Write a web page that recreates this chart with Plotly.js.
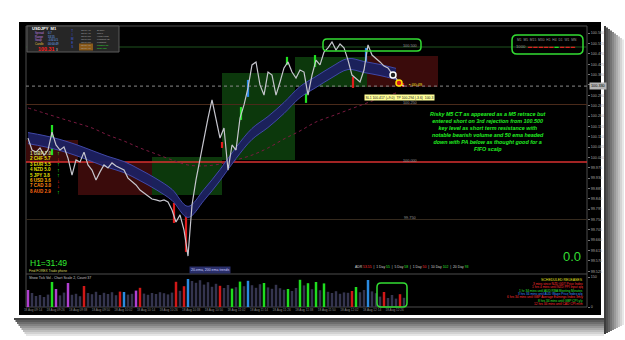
<!DOCTYPE html>
<html><head><meta charset="utf-8">
<script src="https://cdn.plot.ly/plotly-3.0.1.min.js"></script>
<style>html,body{margin:0;padding:0;background:#fff;}#chart{width:625px;height:340px;}</style>
</head><body><div id="chart"></div>
<script>
// ---------- DATA ----------
const closes = [100.104,100.052,100.043,100.061,100.030,100.052,100.130,100.074,100.052,100.065,
100.017,99.943,100.009,100.000,100.043,99.987,99.965,99.922,99.957,99.987,
99.974,99.996,99.983,99.974,99.965,99.930,99.913,99.900,99.878,99.865,
99.848,99.839,99.835,99.830,99.835,99.826,99.791,99.739,99.770,99.704,
99.591,99.813,99.922,100.017,100.104,100.191,100.270,100.183,100.104,100.148,
99.965,100.074,100.052,100.191,100.248,100.322,100.422,100.435,100.335,100.291,
100.391,100.378,100.291,100.348,100.409,100.435,100.391,100.365,100.400,100.391,
100.291,100.378,100.443,100.422,100.478,100.496,100.522,100.487,100.513,100.496,
100.443,100.378,100.365,100.348,100.400,100.509,100.465,100.452,100.435,100.417,
100.409,100.383,100.365,100.339,100.330];

const volumes = [85,70,55,60,50,62,125,90,58,72,
120,61,66,54,105,70,64,76,60,71,
65,74,59,77,75,62,66,82,96,67,
61,70,65,74,69,63,72,126,81,104,
140,130,121,134,112,124,101,116,106,95,
110,92,99,127,104,131,109,96,114,120,
98,91,111,94,86,90,80,95,136,108,
119,89,125,84,118,76,70,79,66,73,
71,80,100,74,85,135,78,69,52,75,
45,60,42,64,46];
const volGreen  = [6,51,53,59,65,68,70,72,74,82];
const volRed    = [14,23,28,37,39,48,81,89,93];
const volBlue   = [24,40,55,85];
const volPurple = [0,7,10,27];

// 50 EMA band (high / low) and 200 EMA, sampled every 4 bars
const emaHigh = [100.128,100.115,100.098,100.076,100.050,100.024,100.002,99.967,99.928,99.881,99.807,99.881,99.967,100.063,100.146,100.198,100.259,100.328,100.372,100.415,100.450,100.437,100.424,100.407];
const emaLow  = [100.080,100.067,100.050,100.028,100.002,99.976,99.954,99.919,99.880,99.833,99.759,99.833,99.919,100.015,100.098,100.150,100.211,100.280,100.324,100.367,100.402,100.389,100.376,100.359];
const ema200  = [100.235,100.213,100.191,100.170,100.148,100.117,100.091,100.061,100.035,100.009,99.987,99.983,99.991,100.009,100.030,100.061,100.100,100.135,100.174,100.200,100.226,100.252,100.278,100.300];

// coloured signal bars
const sigIdx  = [6,36.5,39.5,48.5,53.25,55,64.75,69.5,71.75,81.25,84.5,93.75];
const sigHigh = [100.161,99.822,99.783,100.087,100.239,100.357,100.457,100.343,100.465,100.370,100.496,100.343];
const sigLow  = [100.030,99.735,99.609,100.061,100.183,100.283,100.422,100.257,100.413,100.322,100.430,100.326];
const sigType = ['up','down','down','down','up','blue','up','up','up','down','blue','down'];

// session boxes
const boxStart  = [-0.5,12.5,31,48.5,66.75,84.75];
const boxEnd    = [12.5,31,48.5,66.75,84.75,102.5];
const boxTop    = [100.096,100.000,100.022,100.387,100.457,100.461];
const boxBottom = [100.000,99.857,99.857,100.009,100.326,100.326];
const boxKind   = ['bear','bear','bull','bull','bull','bear'];

// key levels
const levels = [100.500,100.250,100.000,99.750];
const levelLabels = ['100.500','100.250','100.000','99.750'];

// trade marks
const tradeIdx = [91.25,92.75];
const tradePrice = [100.378,100.343];

const priceTicks = [100.560,100.515,100.470,100.425,100.380,100.335,100.290,100.245,100.200,100.155,100.110,100.065,100.020,99.975,99.930,99.885,99.840,99.795,99.750,99.705,99.660,99.615,99.570,99.525];
const timeLabels = ['18 Aug 09:14','18 Aug 09:26','18 Aug 09:38','18 Aug 09:50','18 Aug 10:02','18 Aug 10:14','18 Aug 10:26','18 Aug 10:38','18 Aug 10:50','18 Aug 11:02','18 Aug 11:14','18 Aug 11:26','18 Aug 11:38','18 Aug 11:50','18 Aug 12:02','18 Aug 12:14','18 Aug 12:26'];

const strengthCcy = ['GBP','CHF','EUR','NZD','JPY','USD','CAD','AUD'];
const strengthVal = [7.0,5.7,5.5,5.0,3.8,3.6,3.0,2.9];
const strengthDir = [1,-1,1,1,1,-1,-1,1];

const releases = ['3 mins since NZD GDT Price Index','1 hrs 4 mins until NZD PPI Input q/q','1 hr 34 mins until AUD RBA Meeting Minutes','3 hrs 34 mins until AUD Wage Price Index q/q','6 hrs 34 mins until GBP Average Earnings Index 3m/y','8 hrs 34 mins until GBP CPI y/y','12 hrs 34 mins until CAD CPI m/m'];
const releaseKind = ['past','high','med','low','high','med','high'];

// ---------- helpers (page pixels -> paper) ----------
const L=26,R=587,TOP=26,BOT=307;
const PX = x => (x-L)/(R-L);
const PY = y => (BOT-y)/(BOT-TOP);
const FONT = 'Liberation Sans, Arial, sans-serif';
function T(x,y,text,size,color,o){return Object.assign({xref:'paper',yref:'paper',x:PX(x),y:PY(y),text:text,showarrow:false,xanchor:'left',yanchor:'middle',borderpad:0,font:{size:size,color:color,family:FONT}},o||{});}
function rr(x0,y0,x1,y1,r){ // pixel box -> rounded path in paper coords
  const a=PX(x0),b=PX(x1),top=PY(y0),bot=PY(y1),rx=r/(R-L),ry=r/(BOT-TOP);
  return `M${a+rx},${bot} L${b-rx},${bot} Q${b},${bot} ${b},${bot+ry} L${b},${top-ry} Q${b},${top} ${b-rx},${top} L${a+rx},${top} Q${a},${top} ${a},${top-ry} L${a},${bot+ry} Q${a},${bot} ${a+rx},${bot} Z`;
}

// ---------- traces ----------
const idx = closes.map((_,i)=>i);
const emaX = emaHigh.map((_,k)=>k*4);
const sigColor = {up:'#22e022',down:'#e01c1c',blue:'#2a8ae8'};
const volColor = volumes.map((v,i)=> volGreen.includes(i)?'#1fdc1f': volRed.includes(i)?'#d01818': volBlue.includes(i)?'#2a8ae0': volPurple.includes(i)?'#b040d0':'#34344e');

const traces = [
 {x:emaX,y:ema200,type:'scatter',mode:'lines',line:{color:'#7a1a40',width:1,dash:'dot',shape:'spline'},hoverinfo:'skip'},
 {x:emaX,y:emaLow,type:'scatter',mode:'lines',line:{color:'#4048a8',width:1,shape:'spline'},hoverinfo:'skip'},
 {x:emaX,y:emaHigh,type:'scatter',mode:'lines',fill:'tonexty',fillcolor:'rgba(28,32,96,0.95)',line:{color:'#4048a8',width:1,shape:'spline'},hoverinfo:'skip'},
 {x:idx,y:closes,type:'scatter',mode:'lines',line:{color:'#c6c6ce',width:1.2},hoverinfo:'skip'},
 {x:sigIdx,y:sigHigh.map((h,i)=>h-sigLow[i]),base:sigLow,type:'bar',width:0.55,marker:{color:sigType.map(t=>sigColor[t])},hoverinfo:'skip'},
 {x:tradeIdx,y:tradePrice,type:'scatter',mode:'markers',marker:{size:6,color:['#222222','#d81e1e'],line:{color:['#ffffff','#ffdd00'],width:1.5}},hoverinfo:'skip'},
 {x:idx,y:volumes,type:'bar',xaxis:'x',yaxis:'y2',width:0.62,marker:{color:volColor},hoverinfo:'skip'}
];

// ---------- shapes ----------
const shapes = [];
// card shadow
for(let k=0;k<10;k++){const g=Math.round(60+k*19);shapes.push({type:'rect',xref:'paper',yref:'paper',layer:'below',x0:PX(604+2*k),x1:PX(606+2*k),y0:PY(334-k),y1:PY(26+k*1.5),fillcolor:`rgb(${g},${g},${g})`,line:{width:0}});}
for(let k=0;k<9;k++){const g=Math.round(70+k*20);shapes.push({type:'rect',xref:'paper',yref:'paper',layer:'below',x0:PX(14+k*1.5),x1:PX(604),y0:PY(320+2*k),y1:PY(318+2*k),fillcolor:`rgb(${g},${g},${g})`,line:{width:0}});}
// black chart frame
shapes.push({type:'rect',xref:'paper',yref:'paper',layer:'below',x0:PX(19),x1:PX(601),y0:PY(315),y1:PY(22),fillcolor:'#000',line:{width:0}});
// session boxes
boxStart.forEach((s,i)=>shapes.push({type:'rect',xref:'x',yref:'y',layer:'below',x0:s,x1:boxEnd[i],y0:boxBottom[i],y1:boxTop[i],fillcolor:boxKind[i]==='bull'?'#0c380c':'#3a0b0b',line:{width:0}}));
// key levels
const levelColor=['#1f521f','#4a2a1a','#d83030','#352a1e'];
levels.forEach((v,i)=>shapes.push({type:'line',xref:'x',yref:'y',layer:'below',x0:-0.5,x1:139.75,y0:v,y1:v,line:{color:levelColor[i],width:i===2?1.5:1}}));
// bid line
const last = closes[closes.length-1];
shapes.push({type:'line',xref:'x',yref:'y',layer:'below',x0:-0.5,x1:139.75,y0:last,y1:last,line:{color:'#8a8a8a',width:1,dash:'dot'}});
// panel borders
shapes.push({type:'rect',xref:'paper',yref:'paper',layer:'below',x0:0,x1:1,y0:0,y1:1,line:{color:'#4c4c4c',width:1}});
shapes.push({type:'line',xref:'paper',yref:'paper',layer:'below',x0:0,x1:1,y0:PY(274),y1:PY(274),line:{color:'#4c4c4c',width:1}});
// info panel
shapes.push({type:'rect',xref:'paper',yref:'paper',layer:'above',x0:PX(27),x1:PX(119),y0:PY(52),y1:PY(26),fillcolor:'#262626',line:{color:'#5a5a5a',width:1}});
shapes.push({type:'rect',xref:'paper',yref:'paper',layer:'above',x0:PX(79),x1:PX(93),y0:PY(50.5),y1:PY(43.5),fillcolor:'#8a5a1a',line:{width:0}});
// green call-outs
shapes.push({type:'path',xref:'paper',yref:'paper',layer:'above',path:rr(323,39,421,51,4),line:{color:'#33dd33',width:1.5}});
shapes.push({type:'path',xref:'paper',yref:'paper',layer:'above',path:rr(512,35,583,54,5),line:{color:'#33dd33',width:1.5}});
shapes.push({type:'path',xref:'paper',yref:'paper',layer:'above',path:rr(377,283,407,307,4),line:{color:'#33dd33',width:1.5}});

// ---------- annotations ----------
const A = [];
A.push(T(31,28.8,'<b>USDJPY  M1</b>',4.1,'#ffffff'));
A.push(T(34,38.9,'<span style="color:#c080e0">Spread</span><br><span style="color:#c080e0">Range</span><br><span style="color:#c080e0">Swap</span><br><span style="color:#e0c040">Candle</span>',2.7,'#fff',{align:'left'}));
A.push(T(47,38.9,'0.7<br>53.55<br>-0.6/-0.5<br>00:00:49',2.7,'#70b0ff',{align:'left'}));
A.push(T(37,49.4,'<b>100.31</b>',5.4,'#ff2020'));
A.push(T(55,49.6,'3',3,'#dddddd'));
A.push(T(72,39,'T<br>I<br>M<br>E<br>S',3,'#4060e0',{align:'center',xanchor:'center'}));
const sessTimes=['12:00 AM','12:00 AM','12:00 PM','03:00 PM','03:00 PM','08:00 AM','08:00 AM'];
const sessNames=['Sydney','Tokyo','Hong Kong','Frankfurt (S)','Frankfurt','London (O)','New York'];
A.push(T(80,39,sessTimes.join('<br>'),2.3,'#b0b0b0',{align:'left'}));
A.push(T(96,39,sessNames.map((n,k)=>k>=5?`<span style="color:#30e030">${n}</span>`:n).join('<br>'),2.3,'#b0b0b0',{align:'left'}));

// currency strength list
const ccyColor=['#c8d890','#e8e000','#e8e000','#e8e000','#e8e000','#ffb000','#ff8a10','#ff6a10'];
strengthCcy.forEach((c,k)=>{
  A.push(T(29,153+5.5*k,`<b>${k+1} ${c} ${strengthVal[k].toFixed(1)}</b>`,4.5,ccyColor[k]));
  A.push(T(56,153+5.5*k,strengthDir[k]>0?'<b>↑</b>':'<b>↓</b>',5.5,strengthDir[k]>0?'#22ff22':'#ff2222'));
});

// key level labels
levelLabels.forEach((t,i)=>A.push({xref:'x',yref:'y',x:95.5,y:levels[i],text:t,showarrow:false,yanchor:'bottom',yshift:-1.5,borderpad:0,font:{size:3.8,color:'#9a9a9a',family:FONT}}));

// trade labels
A.push(T(408,84,'▪ 00:49',4.2,'#f0e020'));
A.push(T(399,97.5,'SL1 100.417 (+9.0)  TP 100.294 (-3.6)  100.3',3.4,'#202020',{xanchor:'center',bgcolor:'#ffff99',borderpad:0.5}));
// top-right timeframe box
A.push(T(547,39.5,'M1  M5  M15  M30  H1  H4  D1  W1  MN',3.3,'#9a9a9a',{xanchor:'center'}));
let dash='';for(let k=0;k<9;k++){dash+=`<span style="color:${k===5?'#22dd22':'#dd2222'}">▬</span> `;}
A.push(T(515,46.5,'<span style="color:#9a9a9a">1000</span>  '+dash,4.2,'#fff'));

// commentary
A.push(T(488,131.5,'<b><i>Risky M5 CT as appeared as a M5 retrace but<br>entered short on 3rd rejection from 100.500<br>key level as short term resistance with<br>notable bearish volume and 50 ema headed<br>down with PA below as thought good for a<br>FIFO scalp</i></b>',5.4,'#22ee22',{xanchor:'center',align:'center'}));
A.push(T(572,256,'0.0',13,'#33dd33',{xanchor:'center'}));

// bottom-left labels
A.push(T(29,263,'H1=31:49',8.5,'#33ee33'));
A.push(T(28,270.6,'Find FOREX Trade phone',3.3,'#d8d860'));
A.push(T(210,269.5,'20-ema, 200 ema trends',3.5,'#d0d0ff',{xanchor:'center',bgcolor:'#2a2f6a',borderpad:1}));
A.push(T(412,267,'ADR <span style="color:#ff3030">53.55</span>  |  1 Day <span style="color:#30e030">55</span>  |  5 Day <span style="color:#30e030">58</span>  |  1 Day <span style="color:#ff3030">50</span>  |  10 Day <span style="color:#30e030">102</span>  |  20 Day <span style="color:#30e030">93</span>',3.4,'#d0d0d0',{xanchor:'center'}));
A.push(T(28,277.5,'Show Tick Vol - Chart Scale 2, Count 37',3.5,'#c8c8c8'));

// scheduled releases
const relColor={past:'#ff3030',high:'#ff3030',med:'#30e030',low:'#4090ff'};
A.push(T(584,280,'SCHEDULED RELEASES',3.5,'#e0e020',{xanchor:'right'}));
releases.forEach((r,k)=>A.push(T(584,284+3.3*k,r,3.2,relColor[releaseKind[k]],{xanchor:'right'})));

// current price tag
A.push(T(588.5,86,last.toFixed(3),3.8,'#000',{bgcolor:'#b4b4b4',borderpad:1}));

// ---------- layout ----------
const layout = {
  width:625,height:340,
  margin:{l:L,r:625-R,t:TOP,b:340-BOT,pad:0},
  paper_bgcolor:'#ffffff',plot_bgcolor:'#000000',
  showlegend:false,barmode:'overlay',
  xaxis:{domain:[0,1],range:[-0.5,139.75],anchor:'y2',showgrid:false,zeroline:false,showline:false,ticks:'',
         tickvals:timeLabels.map((_,k)=>1.25+k*5.65),ticktext:timeLabels,tickangle:0,
         tickfont:{size:3.1,color:'#8c8c8c',family:FONT}},
  yaxis:{domain:[(BOT-272)/(BOT-TOP),1],range:[100-(272-162)/230,100+(162-TOP)/230],side:'right',anchor:'x',
         showgrid:false,zeroline:false,showline:false,tickvals:priceTicks,tickformat:'.3f',ticks:'outside',ticklen:2,
         tickcolor:'#777',tickfont:{size:3.7,color:'#a8a8a8',family:FONT}},
  yaxis2:{domain:[0,(BOT-276)/(BOT-TOP)],range:[0,155],side:'right',anchor:'x',showgrid:false,zeroline:false,
         tickvals:[0,150],ticktext:['0','150'],ticks:'outside',ticklen:2,tickcolor:'#777',
         tickfont:{size:3.7,color:'#a8a8a8',family:FONT}},
  shapes:shapes,annotations:A
};
Plotly.newPlot('chart',traces,layout,{staticPlot:true,displayModeBar:false});
</script></body></html>
